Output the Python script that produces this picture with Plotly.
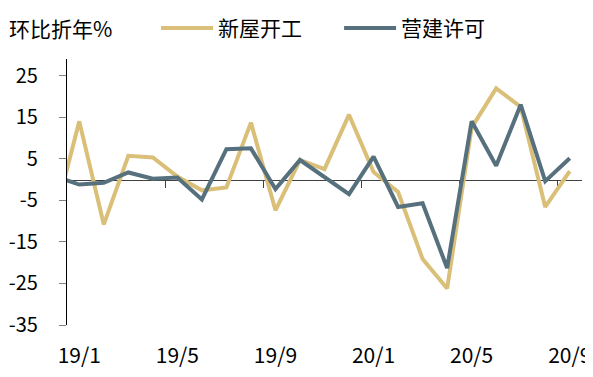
import plotly.graph_objects as go

months = ["18/12", "19/1", "19/2", "19/3", "19/4", "19/5", "19/6", "19/7", "19/8",
          "19/9", "19/10", "19/11", "19/12", "20/1", "20/2", "20/3", "20/4", "20/5",
          "20/6", "20/7", "20/8", "20/9"]
housing_starts = [-9.0, 14.0, -10.8, 5.7, 5.3, 0.7, -2.6, -1.9, 13.7, -7.4, 4.7,
                  2.5, 15.6, 1.8, -3.0, -19.1, -26.2, 12.5, 21.9, 17.5, -6.6, 2.0]
building_permits = [0.8, -1.2, -0.8, 1.7, 0.2, 0.5, -4.8, 7.3, 7.5, -2.3, 4.7,
                    0.6, -3.5, 5.5, -6.6, -5.7, -21.3, 14.0, 3.3, 18.0, -0.4, 5.1]
ytick_vals = [25, 15, 5, -5, -15, -25, -35]
xtick_labels = ["19/1", "19/5", "19/9", "20/1", "20/5", "20/9"]

idx = list(range(len(months)))
label_pos = [months.index(m) for m in xtick_labels]
boundary_pos = [p - 0.5 for p in label_pos[1:]]

FONT = "Noto Sans CJK SC"
BEIGE = "#D9BF78"
GRAY = "#56707D"

fig = go.Figure()
fig.add_trace(go.Scatter(x=idx, y=housing_starts, mode="lines", name="新屋开工",
                         line=dict(color=BEIGE, width=4), cliponaxis=True))
fig.add_trace(go.Scatter(x=idx, y=building_permits, mode="lines", name="营建许可",
                         line=dict(color=GRAY, width=4), cliponaxis=True))
fig.add_trace(go.Scatter(x=[], y=[], xaxis="x2", showlegend=False, hoverinfo="skip"))

yr = [-35, 29]
fig.update_layout(
    width=585, height=369,
    margin=dict(l=59, r=11, t=51, b=52, autoexpand=False),
    paper_bgcolor="white", plot_bgcolor="white",
    font=dict(family=FONT, size=20, color="black"),
    showlegend=True,
    legend=dict(orientation="h", x=0.173, xanchor="left", y=1.115, yanchor="middle",
                font=dict(family=FONT, size=21, color="black"),
                bgcolor="rgba(0,0,0,0)", itemwidth=52, traceorder="normal",
                entrywidth=116, entrywidthmode="pixels"),
    xaxis=dict(range=[0.5, 21.5], showline=False, showgrid=False, zeroline=False,
               tickvals=label_pos, ticktext=xtick_labels, ticks="",
               ticklabelstandoff=16, tickfont=dict(size=21, color="black"),
               automargin=False),
    xaxis2=dict(overlaying="x", anchor="free", position=(0 - yr[0]) / (yr[1] - yr[0]),
                range=[0.5, 21.5], showline=True, linecolor="#404040", linewidth=1.3,
                ticks="outside", ticklen=7, tickcolor="#404040", tickwidth=1.3,
                tickvals=boundary_pos, showticklabels=False, showgrid=False,
                zeroline=False, layer="below traces", automargin=False),
    yaxis=dict(range=yr, showline=True, linecolor="black", linewidth=1.3,
               showgrid=False, zeroline=False, ticks="outside", ticklen=7,
               tickcolor="#808080", tickwidth=1.3, tickvals=ytick_vals,
               ticktext=[str(v) for v in ytick_vals], ticklabelstandoff=17,
               tickfont=dict(size=20, color="black"), automargin=False),
    annotations=[dict(text="环比折年%", xref="paper", yref="paper", x=-0.116, y=1.115,
                      xanchor="left", yanchor="middle", showarrow=False,
                      font=dict(family=FONT, size=21, color="black"))],
)

fig.write_html("out.html")
